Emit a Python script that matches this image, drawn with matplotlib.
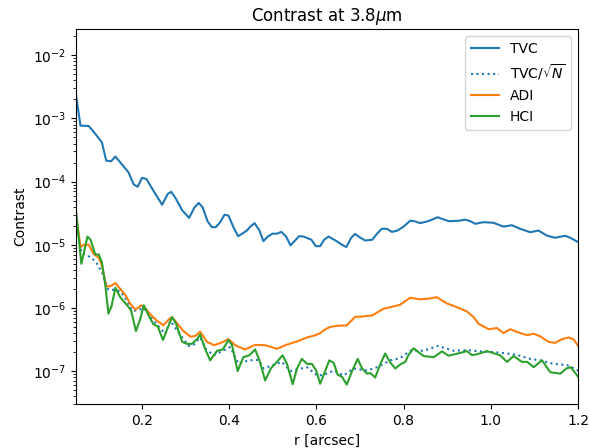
import matplotlib
matplotlib.use('Agg')
import matplotlib.pyplot as plt
import numpy as np

# TVC contrast curve
r_tvc = [0.050, 0.060, 0.079, 0.094, 0.109, 0.119, 0.130, 0.140, 0.155, 0.170,
         0.182, 0.191, 0.201, 0.211, 0.227, 0.247, 0.260, 0.268, 0.279, 0.293,
         0.309, 0.321, 0.331, 0.340, 0.351, 0.361, 0.370, 0.380, 0.390, 0.399,
         0.411, 0.421, 0.430, 0.441, 0.449, 0.459, 0.470, 0.479, 0.489, 0.500,
         0.510, 0.520, 0.531, 0.541, 0.550, 0.561, 0.571, 0.589, 0.599, 0.609,
         0.618, 0.628, 0.644, 0.659, 0.669, 0.680, 0.689, 0.699, 0.712, 0.728,
         0.739, 0.750, 0.762, 0.773, 0.786, 0.800, 0.815, 0.825, 0.838, 0.854,
         0.865, 0.878, 0.893, 0.905, 0.926, 0.941, 0.953, 0.964, 0.983, 1.006,
         1.029, 1.048, 1.067, 1.090, 1.109, 1.128, 1.147, 1.170, 1.182, 1.200]
tvc = [2.3e-3, 7.7e-4, 7.6e-4, 5.7e-4, 4.2e-4, 2.15e-4, 2.1e-4, 2.5e-4, 1.87e-4, 1.4e-4,
       9.0e-5, 8.3e-5, 1.15e-4, 1.1e-4, 7.2e-5, 4.3e-5, 6.4e-5, 6.9e-5, 5.3e-5, 3.5e-5,
       2.67e-5, 3.9e-5, 4.6e-5, 3.9e-5, 2.36e-5, 1.9e-5, 1.9e-5, 2.28e-5, 3.0e-5, 2.9e-5,
       1.86e-5, 1.37e-5, 1.49e-5, 1.68e-5, 1.94e-5, 2.2e-5, 1.68e-5, 1.14e-5, 1.35e-5, 1.5e-5,
       1.5e-5, 1.6e-5, 1.35e-5, 9.8e-6, 1.14e-5, 1.37e-5, 1.35e-5, 1.2e-5, 9.5e-6, 9.5e-6,
       1.2e-5, 1.35e-5, 1.17e-5, 1.0e-5, 9.2e-6, 1.29e-5, 1.49e-5, 1.32e-5, 1.17e-5, 1.2e-5,
       1.49e-5, 1.79e-5, 1.79e-5, 1.6e-5, 1.68e-5, 1.94e-5, 2.4e-5, 2.36e-5, 2.2e-5, 2.34e-5,
       2.5e-5, 2.73e-5, 2.5e-5, 2.36e-5, 2.4e-5, 2.5e-5, 2.36e-5, 2.15e-5, 2.28e-5, 2.23e-5,
       1.94e-5, 2.04e-5, 1.79e-5, 1.58e-5, 1.68e-5, 1.4e-5, 1.29e-5, 1.39e-5, 1.29e-5, 1.1e-5]

# TVC / sqrt(N)
r_tvcn = [0.050, 0.062, 0.071, 0.086, 0.098, 0.109, 0.124, 0.136, 0.151, 0.167,
          0.178, 0.189, 0.205, 0.224, 0.239, 0.254, 0.266, 0.281, 0.296, 0.308,
          0.319, 0.334, 0.348, 0.365, 0.380, 0.403, 0.422, 0.445, 0.468, 0.479,
          0.495, 0.521, 0.541, 0.552, 0.579, 0.602, 0.617, 0.640, 0.663, 0.685,
          0.716, 0.739, 0.770, 0.792, 0.815, 0.846, 0.879, 0.914, 0.945, 0.976,
          1.006, 1.037, 1.060, 1.090, 1.113, 1.143, 1.174, 1.200]
tvcn = [2.3e-5, 7.5e-6, 7.0e-6, 6.2e-6, 5.0e-6, 3.7e-6, 1.94e-6, 1.94e-6, 1.84e-6, 1.3e-6,
        9.1e-7, 9.1e-7, 1.0e-6, 6.7e-7, 5.1e-7, 3.9e-7, 6.3e-7, 4.4e-7, 3.2e-7, 2.5e-7,
        2.6e-7, 3.4e-7, 2.2e-7, 1.78e-7, 2.0e-7, 2.4e-7, 1.3e-7, 1.48e-7, 1.5e-7, 1.1e-7,
        1.2e-7, 1.4e-7, 1.0e-7, 1.05e-7, 1.15e-7, 8.5e-8, 8.7e-8, 1.02e-7, 8.5e-8, 1.1e-7,
        1.02e-7, 1.15e-7, 1.48e-7, 1.6e-7, 2.1e-7, 2.1e-7, 2.5e-7, 2.1e-7, 2.15e-7, 2.05e-7,
        2.0e-7, 1.9e-7, 1.8e-7, 1.56e-7, 1.48e-7, 1.3e-7, 1.25e-7, 1.02e-7]

# ADI
r_adi = [0.050, 0.060, 0.067, 0.079, 0.090, 0.102, 0.109, 0.119, 0.128, 0.140,
         0.151, 0.163, 0.174, 0.186, 0.199, 0.208, 0.220, 0.235, 0.250, 0.266,
         0.273, 0.285, 0.296, 0.312, 0.323, 0.334, 0.350, 0.366, 0.382, 0.399,
         0.415, 0.437, 0.460, 0.483, 0.510, 0.531, 0.557, 0.579, 0.598, 0.609,
         0.621, 0.632, 0.647, 0.670, 0.689, 0.705, 0.728, 0.754, 0.770, 0.792,
         0.815, 0.838, 0.857, 0.876, 0.899, 0.922, 0.945, 0.960, 0.972, 0.995,
         1.014, 1.029, 1.044, 1.067, 1.083, 1.098, 1.113, 1.132, 1.147, 1.163,
         1.178, 1.189, 1.200]
adi = [3.0e-5, 9.2e-6, 1.0e-5, 1.0e-5, 7.2e-6, 6.2e-6, 4.7e-6, 2.2e-6, 2.2e-6, 2.47e-6,
       2.0e-6, 1.6e-6, 1.16e-6, 9.4e-7, 1.1e-6, 1.0e-6, 7.9e-7, 6.3e-7, 5.3e-7, 7.0e-7,
       6.7e-7, 5.3e-7, 4.3e-7, 3.5e-7, 3.6e-7, 4.2e-7, 2.9e-7, 2.57e-7, 2.8e-7, 3.2e-7,
       2.55e-7, 2.2e-7, 2.6e-7, 2.57e-7, 2.25e-7, 2.6e-7, 2.96e-7, 3.4e-7, 3.7e-7, 4.0e-7,
       4.6e-7, 5.0e-7, 5.2e-7, 5.3e-7, 7.2e-7, 7.3e-7, 7.6e-7, 9.7e-7, 1.03e-6, 1.12e-6,
       1.45e-6, 1.37e-6, 1.4e-6, 1.48e-6, 1.18e-6, 1.03e-6, 8.8e-7, 7.2e-7, 5.6e-7, 4.6e-7,
       4.8e-7, 4.0e-7, 4.6e-7, 4.0e-7, 3.7e-7, 3.9e-7, 3.55e-7, 2.9e-7, 2.8e-7, 3.2e-7,
       3.4e-7, 3.2e-7, 2.5e-7]

# HCI
r_hci = [0.050, 0.062, 0.069, 0.076, 0.083, 0.094, 0.102, 0.109, 0.117, 0.124,
         0.131, 0.140, 0.151, 0.167, 0.176, 0.187, 0.197, 0.205, 0.216, 0.227,
         0.237, 0.249, 0.258, 0.270, 0.279, 0.293, 0.304, 0.315, 0.327, 0.334,
         0.346, 0.357, 0.373, 0.386, 0.399, 0.407, 0.420, 0.433, 0.447, 0.460,
         0.470, 0.483, 0.496, 0.510, 0.523, 0.533, 0.546, 0.556, 0.567, 0.579,
         0.590, 0.600, 0.609, 0.618, 0.630, 0.640, 0.649, 0.659, 0.670, 0.682,
         0.695, 0.705, 0.716, 0.724, 0.735, 0.747, 0.758, 0.770, 0.781, 0.792,
         0.804, 0.811, 0.823, 0.834, 0.846, 0.869, 0.888, 0.903, 0.922, 0.945,
         0.957, 0.972, 0.991, 1.010, 1.021, 1.037, 1.052, 1.071, 1.083, 1.098,
         1.117, 1.136, 1.159, 1.173, 1.183, 1.200]
hci = [3.3e-5, 5.0e-6, 8.1e-6, 1.35e-5, 1.2e-5, 7.0e-6, 7.0e-6, 5.3e-6, 2.27e-6, 8.1e-7,
       1.06e-6, 2.09e-6, 1.48e-6, 1.1e-6, 9.1e-7, 4.3e-7, 6.7e-7, 1.1e-6, 7.6e-7, 5.5e-7,
       5.1e-7, 3.1e-7, 4.5e-7, 7.2e-7, 5.6e-7, 2.9e-7, 2.7e-7, 2.7e-7, 3.2e-7, 3.8e-7,
       2.2e-7, 1.48e-7, 2.1e-7, 2.2e-7, 3.1e-7, 2.6e-7, 1.0e-7, 1.66e-7, 1.78e-7, 2.2e-7,
       1.48e-7, 7.1e-8, 1.1e-7, 1.4e-7, 1.78e-7, 1.3e-7, 6.2e-8, 1.1e-7, 1.56e-7, 1.3e-7,
       1.3e-7, 1.02e-7, 6.3e-8, 9.1e-8, 1.48e-7, 1.35e-7, 8.8e-8, 8.1e-8, 6.1e-8, 1.0e-7,
       1.56e-7, 1.1e-7, 9.1e-8, 9.3e-8, 7.9e-8, 1.3e-7, 1.9e-7, 1.35e-7, 1.1e-7, 1.27e-7,
       1.4e-7, 1.78e-7, 2.3e-7, 2.0e-7, 1.73e-7, 1.66e-7, 2.05e-7, 1.75e-7, 1.88e-7, 2.07e-7,
       1.78e-7, 1.88e-7, 2.07e-7, 1.88e-7, 1.78e-7, 1.4e-7, 1.73e-7, 1.4e-7, 1.4e-7, 1.15e-7,
       1.48e-7, 9.6e-8, 9.1e-8, 1.1e-7, 1.15e-7, 8.1e-8]

fig = plt.figure(figsize=(5.9, 4.48), dpi=100)
ax = fig.add_subplot(111)
fig.subplots_adjust(left=0.129, right=0.98, top=0.935, bottom=0.098)

ax.semilogy(r_tvc, tvc, color='C0', label='TVC')
ax.semilogy(r_tvcn, tvcn, color='C0', linestyle=':', label=r'TVC/$\sqrt{N}$')
ax.semilogy(r_adi, adi, color='C1', label='ADI')
ax.semilogy(r_hci, hci, color='C2', label='HCI')

ax.set_xlim(0.05, 1.2)
ax.set_ylim(3e-8, 2.6e-2)
ax.set_xlabel('r [arcsec]')
ax.set_ylabel('Contrast')
ax.set_title(r'Contrast at 3.8$\mu$m')
ax.legend(loc='upper right')

fig.savefig('out.png', dpi=100)
